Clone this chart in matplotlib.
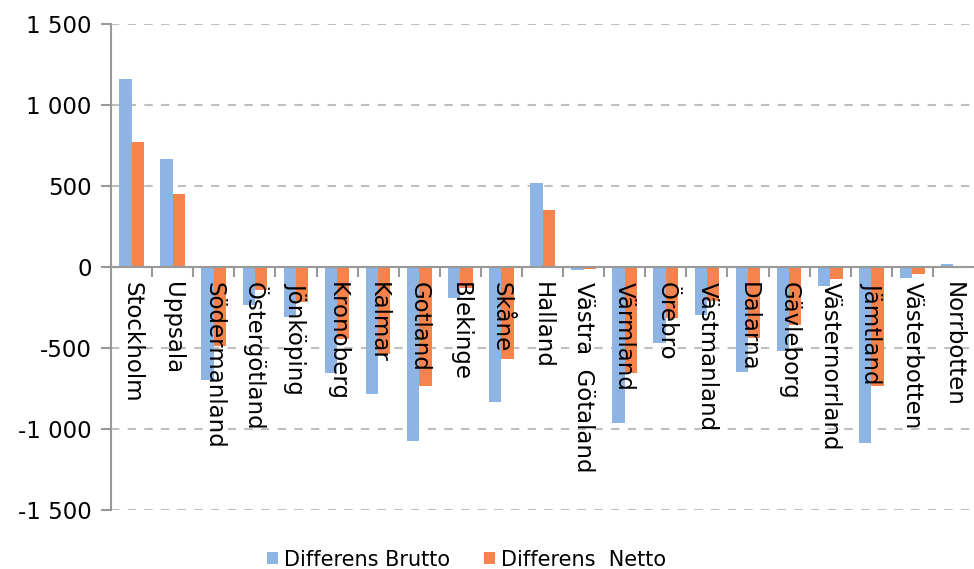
import numpy as np
import matplotlib.pyplot as plt
from matplotlib.ticker import FuncFormatter

# Data
lan = ["Stockholm", "Uppsala", "Södermanland", "Östergötland", "Jönköping",
       "Kronoberg", "Kalmar", "Gotland", "Blekinge", "Skåne", "Halland",
       "Västra  Götaland", "Värmland", "Örebro", "Västmanland", "Dalarna",
       "Gävleborg", "Västernorrland", "Jämtland", "Västerbotten", "Norrbotten"]
brutto = [1160, 667, -698, -235, -308, -656, -784, -1074, -191, -833, 518,
          -19, -963, -469, -296, -648, -518, -117, -1086, -68, 19]
netto = [772, 450, -488, -142, -216, -447, -537, -735, -130, -568, 352,
         -15, -656, -315, -209, -438, -358, -74, -735, -43, 4]

blue = "#8EB4E3"
orange = "#F6834C"
fs = 16.5

plt.rcParams['font.family'] = ['DejaVu Sans']

fig = plt.figure(figsize=(9.74, 5.69), dpi=100)
ax = fig.add_axes([0.114, 0.104, 0.886, 0.854])

x = np.arange(len(lan))
w = 0.3
ax.bar(x - w/2, brutto, w, color=blue, label="Differens Brutto", zorder=3)
ax.bar(x + w/2, netto, w, color=orange, label="Differens  Netto", zorder=3)

ax.set_xlim(-0.5, len(lan) - 0.5)
ax.set_ylim(-1500, 1500)
ax.set_yticks(np.arange(-1500, 1501, 500))
ax.yaxis.set_major_formatter(FuncFormatter(lambda v, p: f"{int(v):,}".replace(",", " ")))
ax.tick_params(axis='y', labelsize=fs, length=7, color="#999999", width=1.5, pad=7)
ax.yaxis.grid(True, linestyle=(0, (4, 4)), color="#BFBFBF", linewidth=1.5, zorder=0)

# x axis at zero, ticks between categories
ax.spines['bottom'].set_position(('data', 0))
ax.spines['bottom'].set_color("#999999")
ax.spines['bottom'].set_linewidth(1.5)
ax.spines['bottom'].set_zorder(4)
ax.spines['left'].set_color("#999999")
ax.spines['left'].set_linewidth(1.5)
ax.spines['top'].set_visible(False)
ax.spines['right'].set_visible(False)
ax.set_xticks(np.arange(0.5, len(lan) - 0.5, 1.0))
ax.set_xticklabels([])
ax.tick_params(axis='x', length=7, color="#999999", width=1.5, direction='out')

for i, name in enumerate(lan):
    ax.text(i, -95, name, rotation=-90, ha='center', va='top', fontsize=fs,
            zorder=5)

ax.legend(loc='lower center', bbox_to_anchor=(0.412, -0.14), ncol=2, frameon=False,
          fontsize=15, handlelength=0.55, handleheight=0.55, handletextpad=0.3,
          columnspacing=1.6, borderaxespad=0)

fig.savefig("out.png", dpi=100)
